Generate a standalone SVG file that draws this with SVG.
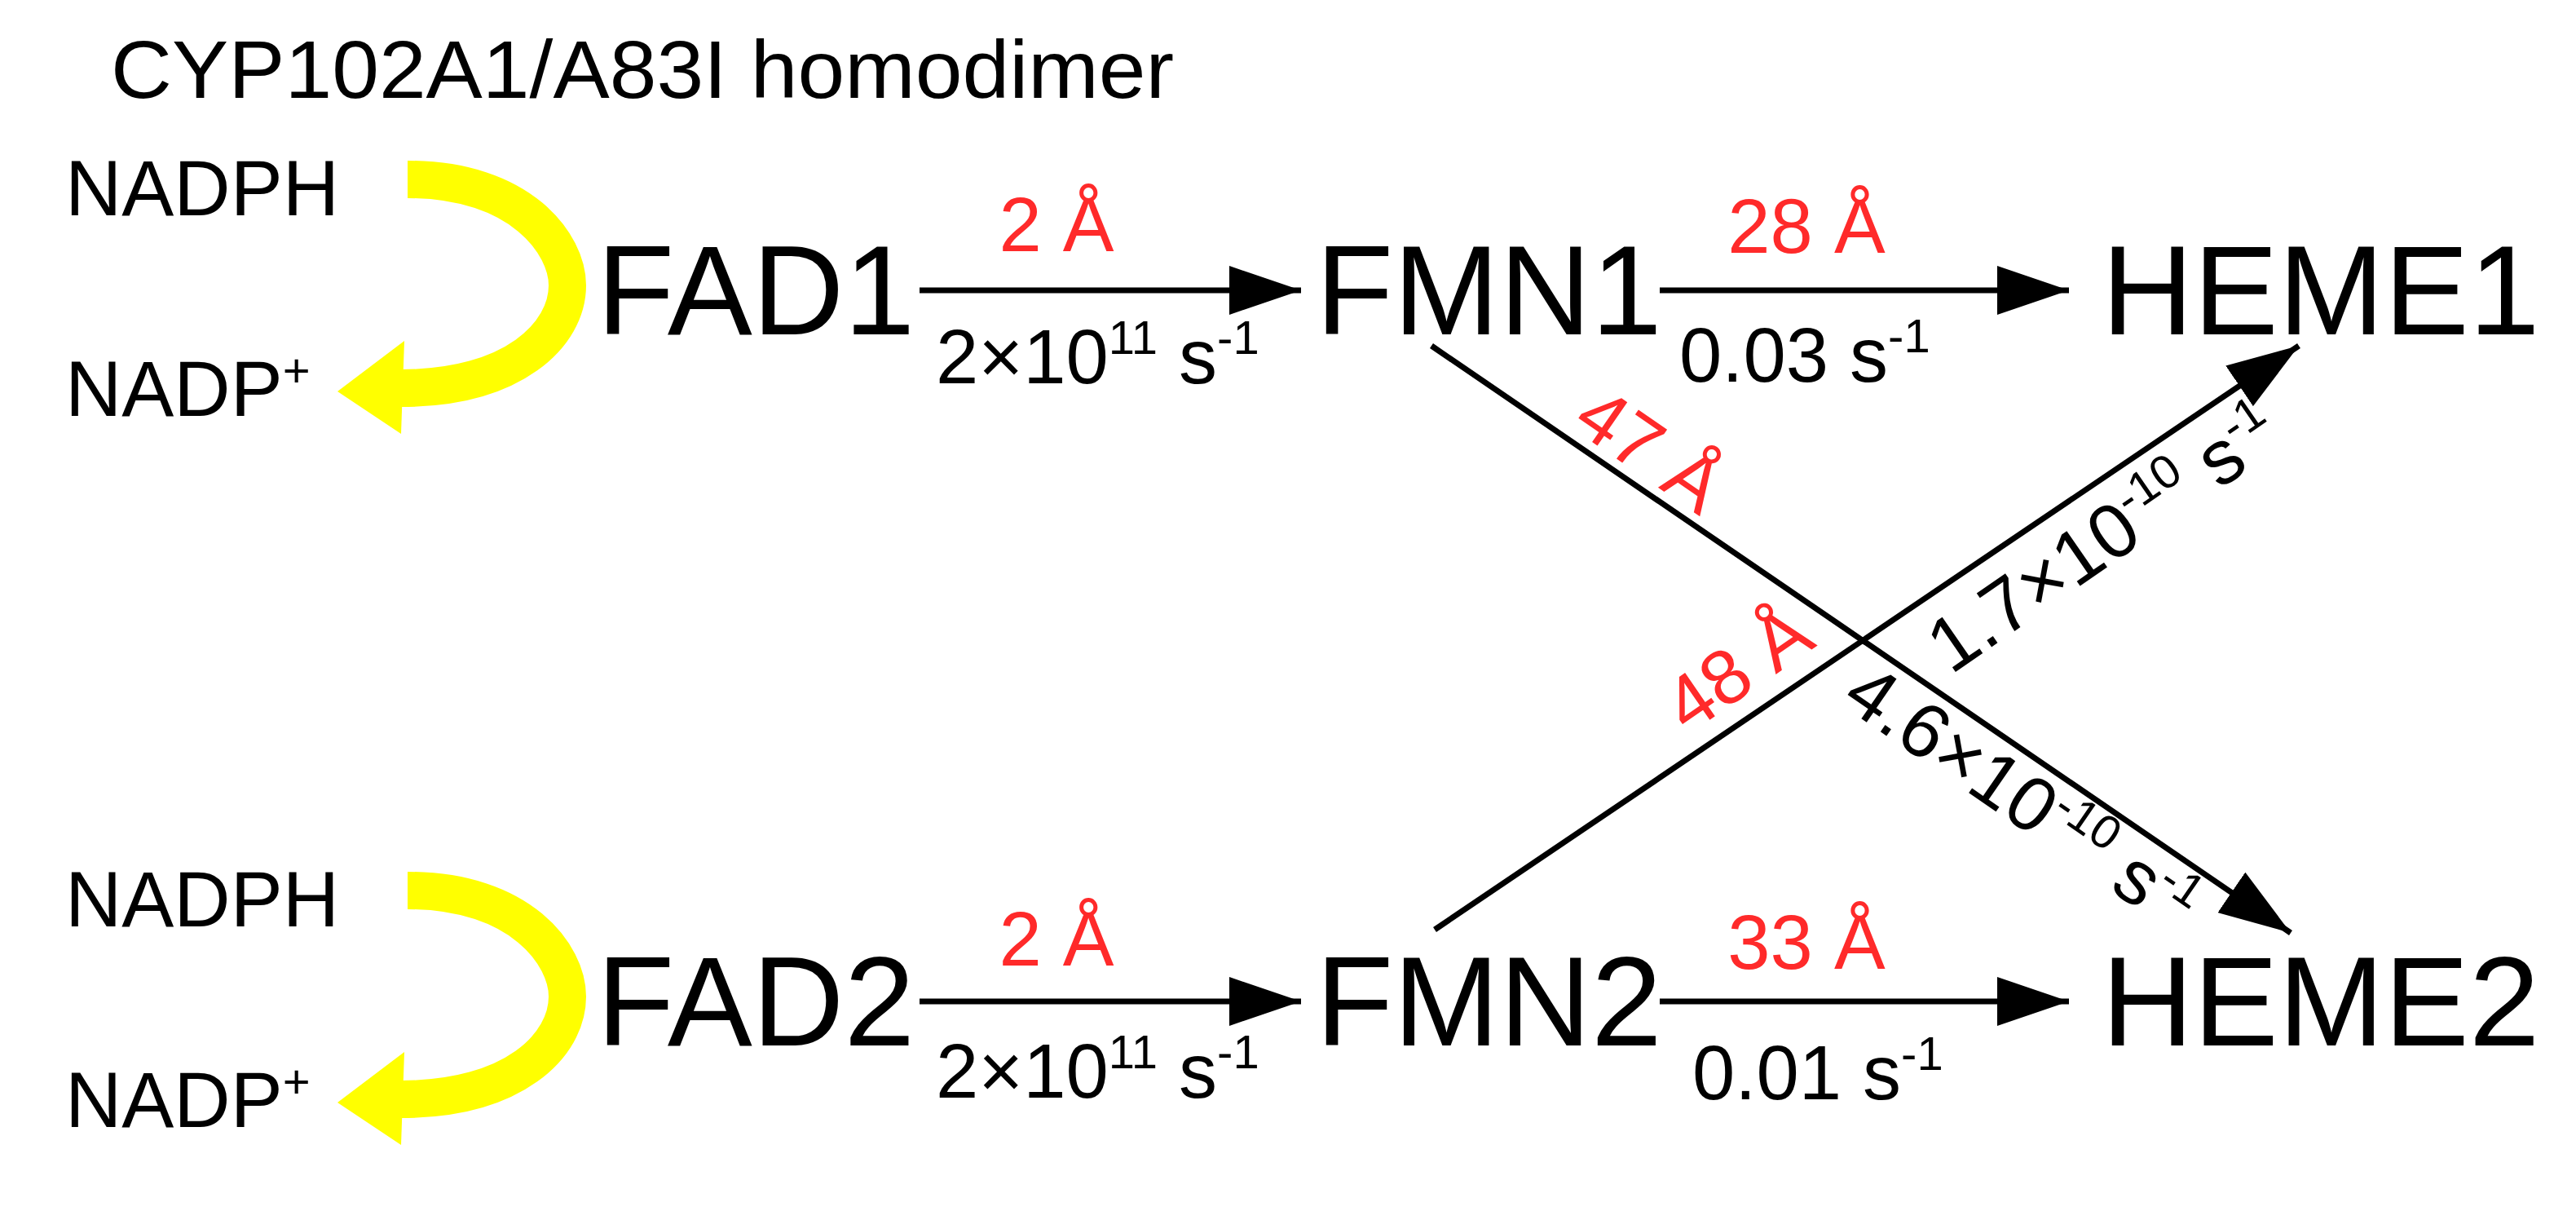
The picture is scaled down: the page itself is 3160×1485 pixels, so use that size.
<svg xmlns="http://www.w3.org/2000/svg" width="3160" height="1485" viewBox="0 0 3160 1485">
<style>
text{font-family:"Liberation Sans",Arial,sans-serif;fill:#000}
.node{font-size:78px}
.sm{font-size:48px}
.lab{font-size:47px}
.red{fill:#ff2a2a}
.sup{font-size:29px}
.ln{stroke:#000;stroke-width:3.5;fill:none}
.yl{stroke:#ffff00;stroke-width:23;fill:none}
</style>
<defs>
<marker id="ah" viewBox="0 0 44 30" refX="44" refY="15" markerWidth="44" markerHeight="30" markerUnits="userSpaceOnUse" orient="auto">
<path d="M0 0L44 15L0 30z" fill="#000"/>
</marker>
<g id="cyc">
<path class="yl" d="M250 110C320 110 348 150 348 175C348 205 315 238 246 238"/>
<path d="M207 240L248 209L246 266z" fill="#ffff00"/>
</g>
</defs>
<rect width="3160" height="1485" fill="#fff"/>
<g transform="scale(2)">
<g id="title"><text x="68" y="60" font-size="50" textLength="652" lengthAdjust="spacingAndGlyphs">CYP102A1/A83I homodimer</text></g>
<g id="nadph1"><text class="sm" x="40" y="132">NADPH</text></g>
<g id="nadp1"><text class="sm" x="40" y="255">NADP<tspan class="sup" dy="-18">+</tspan></text></g>
<g id="nadph2"><text class="sm" x="40" y="568">NADPH</text></g>
<g id="nadp2"><text class="sm" x="40" y="691">NADP<tspan class="sup" dy="-18">+</tspan></text></g>
<g id="cycle1"><use href="#cyc"/></g>
<g id="cycle2"><use href="#cyc" transform="translate(0,436)"/></g>
<g id="FAD1"><text class="node" x="366" y="205">FAD1</text></g>
<g id="FMN1"><text class="node" x="807" y="205">FMN1</text></g>
<g id="HEME1"><text class="node" x="1289" y="205">HEME1</text></g>
<g id="FAD2"><text class="node" x="366" y="641">FAD2</text></g>
<g id="FMN2"><text class="node" x="807" y="641">FMN2</text></g>
<g id="HEME2"><text class="node" x="1289" y="641">HEME2</text></g>
<g id="connectors">
<line class="ln" x1="564" y1="178" x2="798" y2="178" marker-end="url(#ah)"/>
<line class="ln" x1="1018" y1="178" x2="1269" y2="178" marker-end="url(#ah)"/>
<line class="ln" x1="564" y1="614" x2="798" y2="614" marker-end="url(#ah)"/>
<line class="ln" x1="1018" y1="614" x2="1269" y2="614" marker-end="url(#ah)"/>
<line class="ln" x1="878" y1="212" x2="1405" y2="572" marker-end="url(#ah)"/>
<line class="ln" x1="880" y1="570" x2="1410" y2="212" marker-end="url(#ah)"/>
</g>
<g id="labels">
<text class="lab red" x="648" y="154" text-anchor="middle">2 Å</text>
<text class="lab" x="574" y="235">2×10<tspan class="sup" dy="-18">11</tspan><tspan dy="18"> s</tspan><tspan class="sup" dy="-18">-1</tspan></text>
<text class="lab red" x="1108" y="155" text-anchor="middle">28 Å</text>
<text class="lab" x="1030" y="234">0.03 s<tspan class="sup" dy="-18">-1</tspan></text>
<text class="lab red" x="648" y="592" text-anchor="middle">2 Å</text>
<text class="lab" x="574" y="673">2×10<tspan class="sup" dy="-18">11</tspan><tspan dy="18"> s</tspan><tspan class="sup" dy="-18">-1</tspan></text>
<text class="lab red" x="1108" y="594" text-anchor="middle">33 Å</text>
<text class="lab" x="1038" y="674">0.01 s<tspan class="sup" dy="-18">-1</tspan></text>
<text class="lab red" x="1012" y="292" text-anchor="middle" transform="rotate(34.6 1012 276)">47 Å</text>
<text class="lab red" x="1066" y="426" text-anchor="middle" transform="rotate(-34.6 1066 410)">48 Å</text>
<text class="lab" x="1290" y="346" text-anchor="middle" transform="rotate(-34.6 1290 330)">1.7×10<tspan class="sup" dy="-18">-10</tspan><tspan dy="18"> s</tspan><tspan class="sup" dy="-18">-1</tspan></text>
<text class="lab" x="1240" y="505" text-anchor="middle" transform="rotate(34.6 1240 489)">4.6×10<tspan class="sup" dy="-18">-10</tspan><tspan dy="18"> s</tspan><tspan class="sup" dy="-18">-1</tspan></text>
</g>
</g>
</svg>
